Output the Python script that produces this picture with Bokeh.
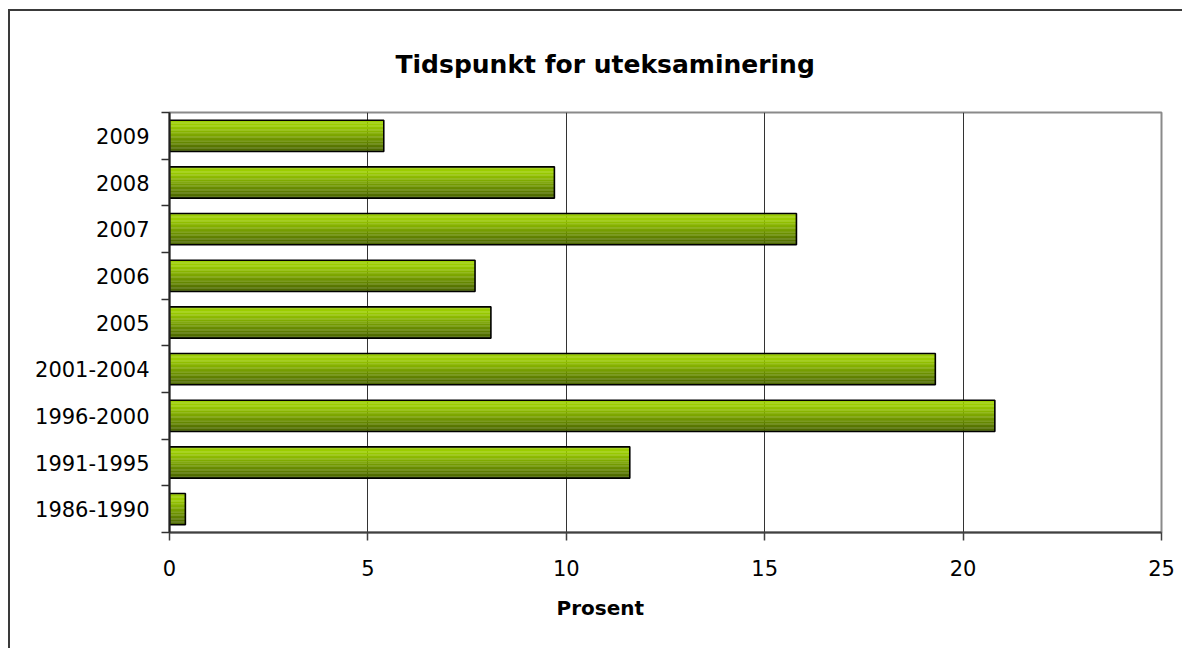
from bokeh.plotting import figure
from bokeh.models import ColumnDataSource, FixedTicker, Range1d, Title
from bokeh.embed import file_html
from bokeh.resources import INLINE

# ---- data ----
categories = ["1986-1990", "1991-1995", "1996-2000", "2001-2004",
              "2005", "2006", "2007", "2008", "2009"]
values = [0.4, 11.6, 20.8, 19.3, 8.1, 7.7, 15.8, 9.7, 5.4]
x_ticks = [0, 5, 10, 15, 20, 25]
title_text = "Tidspunkt for uteksaminering"
x_label = "Prosent"

FONT = "DejaVu Sans"
BAR_H = 0.67
N_STRIPS = 40
TOP_RGB = (155, 205, 0)
BOT_RGB = (72, 98, 0)

positions = list(range(1, len(categories) + 1))

# canvas origin at (10, 11): margin 8/9 + 2px border; chart continues past the right edge
p = figure(width=1200, height=639, output_backend="svg", toolbar_location=None,
           x_range=Range1d(0, 25), y_range=Range1d(0.5, len(categories) + 0.5),
           min_border_left=159, min_border_top=101, min_border_right=49,
           min_border_bottom=118)
p.styles = {"margin-left": "8px", "margin-top": "9px",
            "border-top": "2px solid #3a3a3a", "border-left": "2px solid #3a3a3a"}
p.background_fill_color = "white"
p.border_fill_color = "white"
p.outline_line_color = "#8a8a8a"
p.outline_line_width = 2

# gradient bars built from thin strips
sy, sr, sh, sc = [], [], [], []
for pos, v in zip(positions, values):
    for k in range(N_STRIPS):
        t = (k + 0.5) / N_STRIPS
        f = 0.0 if t < 0.18 else (t - 0.18) / 0.82
        col = tuple(int(round(a + (b - a) * f)) for a, b in zip(TOP_RGB, BOT_RGB))
        sy.append(pos + BAR_H / 2 - (k + 0.5) * BAR_H / N_STRIPS)
        sr.append(v)
        sh.append(BAR_H / N_STRIPS * 1.4)
        sc.append("#%02x%02x%02x" % col)
strips = ColumnDataSource(dict(y=sy, right=sr, height=sh, color=sc))
p.hbar(y="y", left=0, right="right", height="height", fill_color="color",
       line_color=None, source=strips)

bars = ColumnDataSource(dict(y=positions, right=values, cat=categories))
p.hbar(y="y", left=0, right="right", height=BAR_H, fill_color=None,
       line_color="black", line_width=1.6, source=bars)

# grid
p.xgrid.ticker = FixedTicker(ticks=x_ticks)
p.xgrid.grid_line_color = "#333333"
p.xgrid.grid_line_width = 1
p.ygrid.grid_line_color = None

# x axis
p.xaxis.ticker = FixedTicker(ticks=x_ticks)
p.xaxis.major_tick_out = 8
p.xaxis.major_tick_in = 0
p.xaxis.minor_tick_line_color = None
p.xaxis.axis_line_color = "#404040"
p.xaxis.axis_line_width = 2
p.xaxis.major_tick_line_color = "#404040"
p.xaxis.major_tick_line_width = 1.5
p.xaxis.major_label_text_font = FONT
p.xaxis.major_label_text_font_size = "21px"
p.xaxis.major_label_text_color = "black"
p.xaxis.major_label_standoff = 19

# y axis
p.yaxis.ticker = FixedTicker(ticks=positions,
                             minor_ticks=[q - 0.5 for q in positions] + [positions[-1] + 0.5])
p.yaxis.major_label_overrides = {pos: c for pos, c in zip(positions, categories)}
p.yaxis.major_tick_out = 0
p.yaxis.major_tick_in = 0
p.yaxis.minor_tick_out = 8
p.yaxis.minor_tick_in = 0
p.yaxis.minor_tick_line_color = "#303030"
p.yaxis.minor_tick_line_width = 1.5
p.yaxis.axis_line_color = "#202020"
p.yaxis.axis_line_width = 2
p.yaxis.major_label_text_font = FONT
p.yaxis.major_label_text_font_size = "21px"
p.yaxis.major_label_text_color = "black"
p.yaxis.major_label_standoff = 12

# title
p.title.text = title_text
p.title.text_font = FONT
p.title.text_font_size = "25px"
p.title.text_font_style = "bold"
p.title.text_color = "black"
p.title.align = "left"
p.title.offset = 226
p.title.standoff = 68

xl = Title(text=x_label, align="left", offset=387, text_font=FONT,
           text_font_size="20px", text_font_style="bold", text_color="black",
           standoff=30)
p.add_layout(xl, "below")

open("out.html", "w").write(file_html(p, INLINE))
